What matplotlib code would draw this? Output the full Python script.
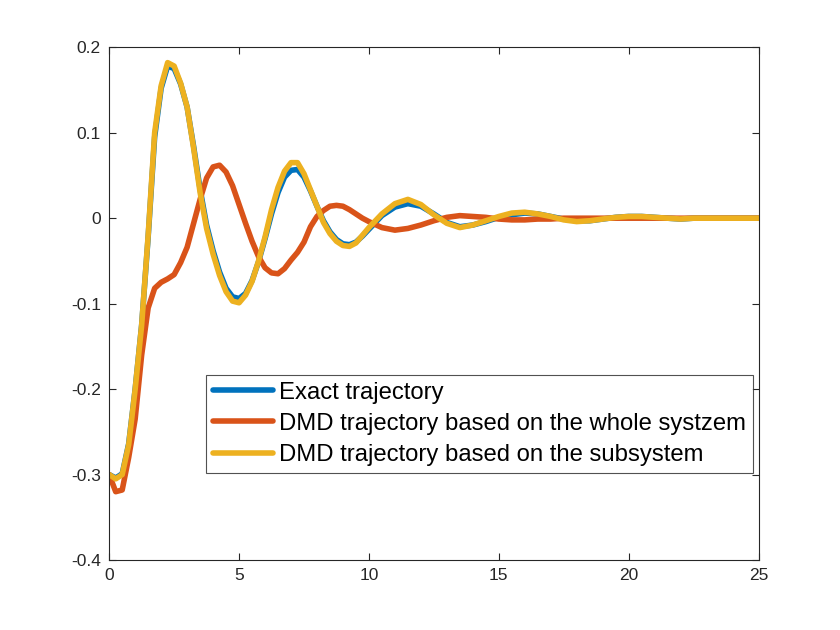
import matplotlib
matplotlib.use("Agg")
import matplotlib.pyplot as plt

plt.rcParams['font.family'] = ['Liberation Sans', 'DejaVu Sans']

t = [0, 0.25, 0.5, 0.75, 1.0, 1.25, 1.5, 1.75, 2.0, 2.25, 2.5, 2.75, 3.0, 3.25, 3.5, 3.75,
     4.0, 4.25, 4.5, 4.75, 5.0, 5.25, 5.5, 5.75, 6.0, 6.25, 6.5, 6.75, 7.0, 7.25, 7.5, 7.75,
     8.0, 8.25, 8.5, 8.75, 9.0, 9.25, 9.5, 9.75, 10.0, 10.5, 11.0, 11.5, 12.0, 12.5, 13.0,
     13.5, 14.0, 14.5, 15.0, 15.5, 16.0, 16.5, 17.0, 17.5, 18.0, 18.5, 19.0, 19.5, 20.0,
     20.5, 21.0, 21.5, 22.0, 22.5, 23.0, 23.5, 24.0, 24.5, 25.0]

exact = [-0.300, -0.304, -0.299, -0.264, -0.200, -0.125, -0.022, 0.095, 0.152, 0.178, 0.175,
         0.157, 0.130, 0.084, 0.034, -0.008, -0.038, -0.063, -0.082, -0.092, -0.094, -0.088,
         -0.073, -0.051, -0.024, 0.005, 0.030, 0.048, 0.056, 0.057, 0.048, 0.032, 0.014,
         -0.003, -0.016, -0.025, -0.030, -0.031, -0.028, -0.021, -0.013, 0.003, 0.013, 0.017,
         0.014, 0.005, -0.005, -0.010, -0.008, -0.004, 0.001, 0.004, 0.006, 0.005, 0.002,
         -0.001, -0.003, -0.003, -0.001, 0.001, 0.002, 0.002, 0.001, 0.000, -0.001, 0.000,
         0.000, 0.000, 0.000, 0.000, 0.000]

dmd_whole = [-0.300, -0.320, -0.318, -0.280, -0.235, -0.160, -0.105, -0.082, -0.075, -0.071,
             -0.066, -0.052, -0.034, -0.006, 0.022, 0.047, 0.060, 0.062, 0.054, 0.038, 0.016,
             -0.006, -0.027, -0.045, -0.058, -0.064, -0.065, -0.059, -0.049, -0.040, -0.028,
             -0.010, 0.002, 0.009, 0.014, 0.015, 0.014, 0.010, 0.005, 0.000, -0.004, -0.011,
             -0.014, -0.012, -0.008, -0.003, 0.001, 0.003, 0.002, 0.001, -0.001, -0.002,
             -0.002, -0.001, -0.001, 0.000, 0.000, 0.000, 0.000, 0.000, 0.000, 0.000, 0.000,
             0.000, 0.000, 0.000, 0.000, 0.000, 0.000, 0.000, 0.000]

dmd_sub = [-0.300, -0.305, -0.300, -0.265, -0.200, -0.125, -0.020, 0.100, 0.155, 0.182, 0.178,
           0.158, 0.130, 0.082, 0.030, -0.012, -0.042, -0.067, -0.086, -0.097, -0.099, -0.090,
           -0.074, -0.050, -0.022, 0.010, 0.036, 0.055, 0.065, 0.065, 0.052, 0.033, 0.014,
           -0.005, -0.018, -0.027, -0.032, -0.033, -0.029, -0.020, -0.011, 0.005, 0.017,
           0.022, 0.016, 0.004, -0.006, -0.011, -0.008, -0.003, 0.002, 0.006, 0.007, 0.005,
           0.002, -0.002, -0.004, -0.003, -0.001, 0.001, 0.002, 0.002, 0.001, 0.000, -0.001,
           0.000, 0.000, 0.000, 0.000, 0.000, 0.000]

labels = ['Exact trajectory',
          'DMD trajectory based on the whole systzem',
          'DMD trajectory based on the subsystem']
colors = ['#0072BD', '#D95319', '#EDB120']

fig = plt.figure(figsize=(8.4, 6.3), dpi=100)
ax = fig.add_axes([0.13, 0.111, 0.773, 0.814])

for y, lab, c in zip([exact, dmd_whole, dmd_sub], labels, colors):
    ax.plot(t, y, color=c, lw=4.0, label=lab, solid_joinstyle='round', solid_capstyle='round')

ax.set_xlim(0, 25)
ax.set_ylim(-0.4, 0.2)
ax.set_xticks([0, 5, 10, 15, 20, 25])
ax.set_yticks([-0.4, -0.3, -0.2, -0.1, 0, 0.1, 0.2])
ax.set_yticklabels(['-0.4', '-0.3', '-0.2', '-0.1', '0', '0.1', '0.2'])
ax.tick_params(direction='in', top=True, right=True, labelsize=12.5, length=5,
               width=0.8, colors='#262626', pad=6)
for s in ax.spines.values():
    s.set_linewidth(0.8)
    s.set_color('#262626')

leg = ax.legend(loc='lower left', bbox_to_anchor=(0.1495, 0.1696), fontsize=17.2,
                frameon=True, fancybox=False, handlelength=2.5, handletextpad=0.25,
                borderpad=0.3, labelspacing=0.38, borderaxespad=0)
leg.get_frame().set_edgecolor('#262626')
leg.get_frame().set_linewidth(0.8)

fig.savefig('out.png', dpi=100)
